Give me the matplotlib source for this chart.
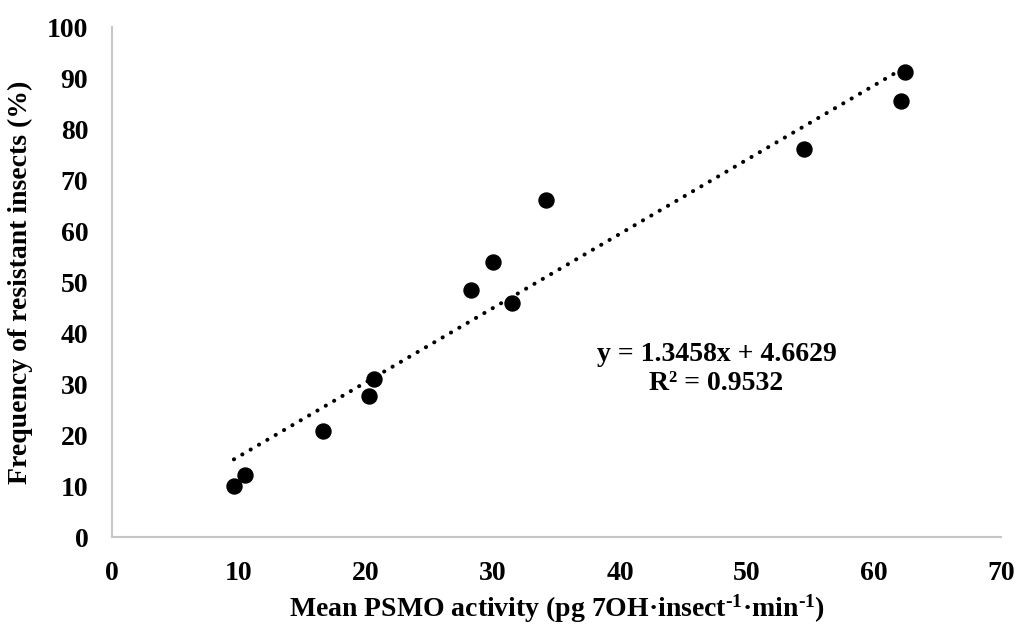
import matplotlib
matplotlib.use("Agg")
import matplotlib.pyplot as plt
import numpy as np

# ---- data ----
psmo_activity = [9.6, 10.5, 16.6, 20.2, 20.6, 28.3, 30.0, 31.5, 34.2, 54.5, 62.1, 62.4]
resistant_pct = [10.0, 12.2, 20.8, 27.7, 31.0, 48.4, 54.0, 45.8, 66.1, 76.1, 85.5, 91.1]
x_ticks = [0, 10, 20, 30, 40, 50, 60, 70]
y_ticks = [0, 10, 20, 30, 40, 50, 60, 70, 80, 90, 100]
equation_text = "y = 1.3458x + 4.6629\nR\u00b2 = 0.9532"

plt.rcParams['font.family'] = ['Liberation Serif', 'DejaVu Serif']
plt.rcParams['font.weight'] = 'bold'
plt.rcParams['mathtext.fontset'] = 'custom'
plt.rcParams['mathtext.rm'] = 'Liberation Serif:bold'
plt.rcParams['mathtext.it'] = 'Liberation Serif:bold'
plt.rcParams['mathtext.bf'] = 'Liberation Serif:bold'

fig = plt.figure(figsize=(10.17, 6.24), dpi=100)
ax = fig.add_axes([0.1101, 0.1394, 0.8742, 0.8173])

x = np.array(psmo_activity)
y = np.array(resistant_pct)

# linear trendline over the data range
slope, intercept = np.polyfit(x, y, 1)
xl = np.array([x.min(), x.max()])
ax.plot(xl, slope * xl + intercept, color='black', lw=2.9,
        linestyle=(0, (0.05, 2.35)), dash_capstyle='round', zorder=2)

ax.plot(x, y, 'o', color='black', markersize=10.8, zorder=3)

ax.set_xlim(0, 70)
ax.set_ylim(0, 100)
ax.set_xticks(x_ticks)
ax.set_yticks(y_ticks)
ax.tick_params(length=0, labelsize=20, pad=17)
for lab in ax.get_xticklabels() + ax.get_yticklabels():
    lab.set_fontweight('bold')

for side in ['top', 'right']:
    ax.spines[side].set_visible(False)
for side in ['left', 'bottom']:
    ax.spines[side].set_color('#c6c6c6')
    ax.spines[side].set_linewidth(1.5)

ax.set_xlabel("Mean PSMO activity (pg 7OH\u00b7insect$^{\\text{-1}}$\u00b7min$^{\\text{-1}}$)",
              fontsize=20, fontweight='bold', va='center')
ax.xaxis.set_label_coords(0.5, -0.141)
ax.set_ylabel("Frequency of resistant insects (%)", fontsize=20,
              fontweight='bold', va='center')
ax.yaxis.set_label_coords(-0.1035, 0.5)

ax.text(0.68, 0.33, equation_text, transform=ax.transAxes, ha='center',
        va='center', fontsize=20, fontweight='bold', multialignment='center',
        linespacing=1.2)

fig.savefig("out.png", dpi=100)
